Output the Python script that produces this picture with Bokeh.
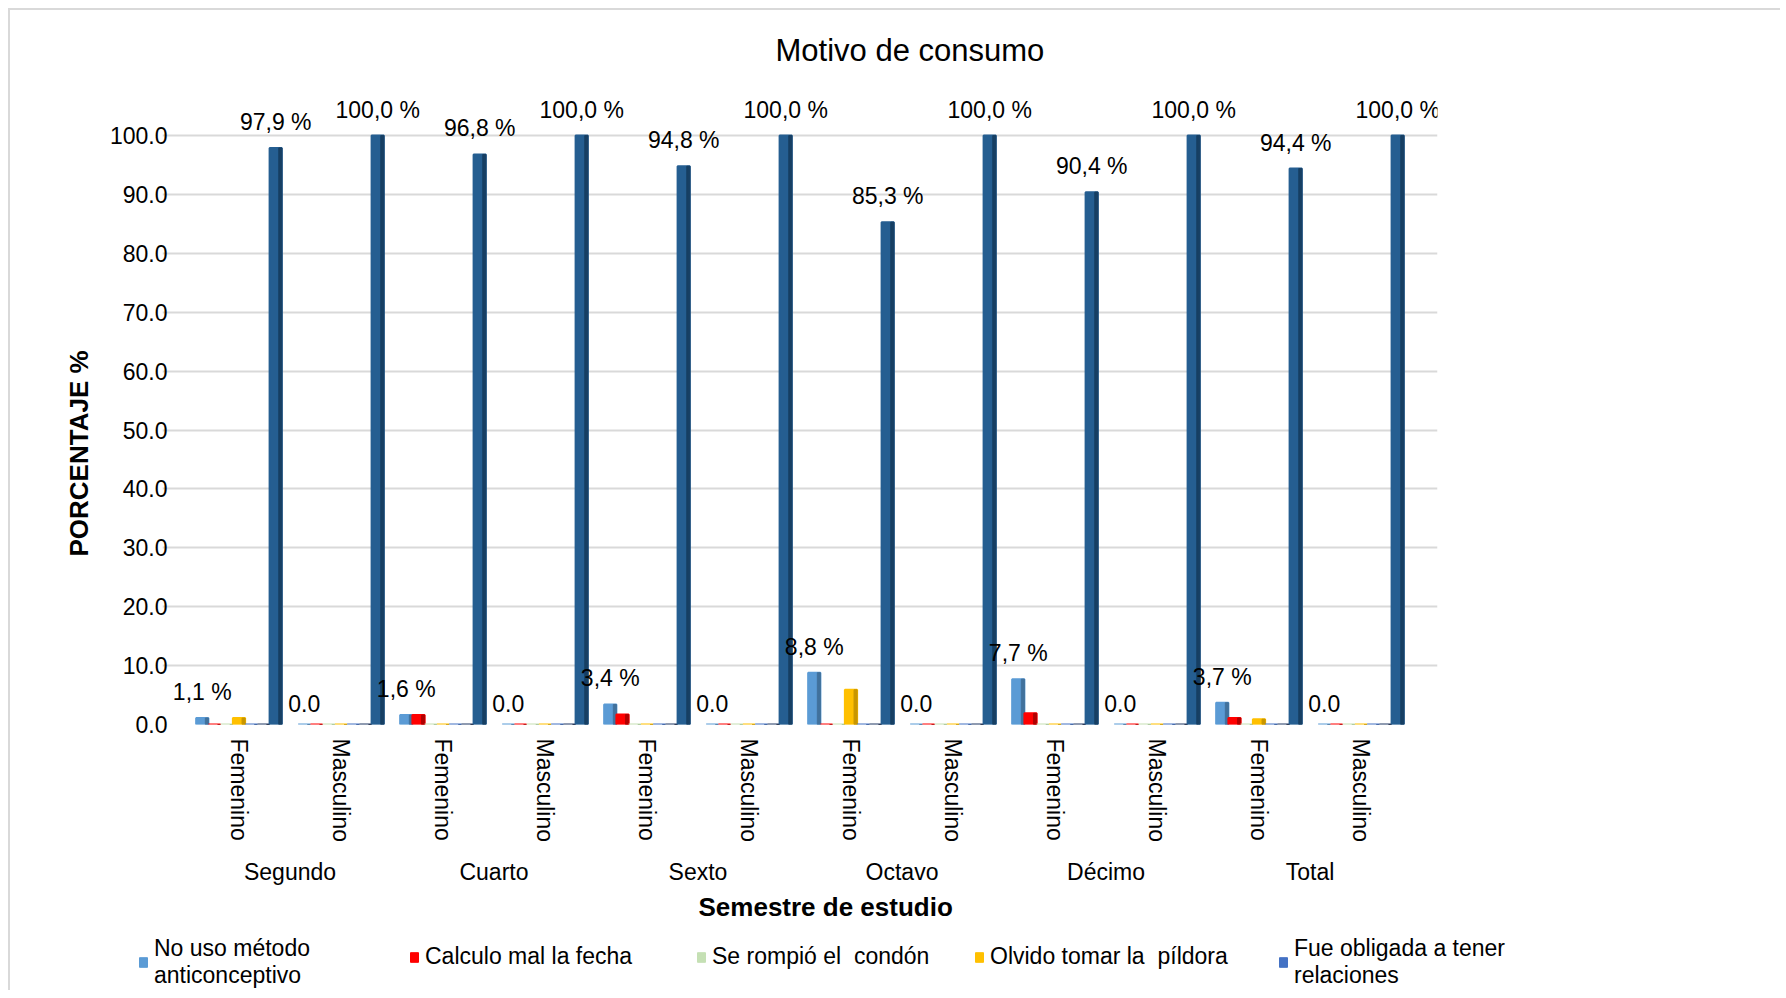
from bokeh.plotting import figure
from bokeh.models import (FactorRange, Range1d, FixedTicker, NumeralTickFormatter,
                          ColumnDataSource, Legend, LegendItem, LabelSet, Title)
from bokeh.transform import dodge
from bokeh.core.properties import value
from bokeh.embed import file_html
from bokeh.resources import INLINE

# ---------------- data ----------------
semestres = ["Segundo", "Cuarto", "Sexto", "Octavo", "Décimo", "Total"]
sexos = ["Femenino", "Masculino"]

series_names = ["No uso método\nanticonceptivo", "Calculo mal la fecha", "Se rompió el  condón",
                "Olvido tomar la  píldora", "Fue obligada a tener\nrelaciones", "Otro", "Anticoncepción"]
no_uso   = [1.1, 0.0, 1.6, 0.0, 3.4, 0.0, 8.8, 0.0, 7.7, 0.0, 3.7, 0.0]
calculo  = [0.0, 0.0, 1.6, 0.0, 1.7, 0.0, 0.0, 0.0, 1.9, 0.0, 1.1, 0.0]
condon   = [0.0, 0.0, 0.0, 0.0, 0.0, 0.0, 0.0, 0.0, 0.0, 0.0, 0.0, 0.0]
olvido   = [1.1, 0.0, 0.0, 0.0, 0.0, 0.0, 5.9, 0.0, 0.0, 0.0, 0.9, 0.0]
obligada = [0.0, 0.0, 0.0, 0.0, 0.0, 0.0, 0.0, 0.0, 0.0, 0.0, 0.0, 0.0]
otro     = [0.0, 0.0, 0.0, 0.0, 0.0, 0.0, 0.0, 0.0, 0.0, 0.0, 0.0, 0.0]
anticonc = [97.9, 100.0, 96.8, 100.0, 94.8, 100.0, 85.3, 100.0, 90.4, 100.0, 94.4, 100.0]
y_ticks = [0, 10, 20, 30, 40, 50, 60, 70, 80, 90, 100]

colors = ["#5b9bd5", "#ff0000", "#c5e0b4", "#ffc000", "#4472c4", "#203864", "#255e91"]
side_colors = ["#41719c", "#b00000", "#9fbf8f", "#c89600", "#2f5597", "#141f3a", "#173f63"]
in_legend = [True, True, True, True, True, False, False]

factors = [(s, x) for s in semestres for x in sexos]
all_series = [no_uso, calculo, condon, olvido, obligada, otro, anticonc]

FONT = "Liberation Sans"

x_range = FactorRange(*factors, group_padding=0, factor_padding=0,
                      range_padding=0.25, range_padding_units="absolute")
p = figure(x_range=x_range, y_range=Range1d(0, 108),
           frame_width=1275, frame_height=636,
           min_border_left=162, min_border_right=343, min_border_top=88, min_border_bottom=200,
           output_backend="svg", toolbar_location=None,
           background_fill_color="white", border_fill_color="white", border_fill_alpha=0)
p.outline_line_color = None
p.styles = {"background": "linear-gradient(#d9d9d9,#d9d9d9) 8px 8px / 2px 100% no-repeat, "
                          "linear-gradient(#d9d9d9,#d9d9d9) 8px 8px / 100% 2px no-repeat, white"}

bw = 0.12
sources = []
for i, (vals, c, sc) in enumerate(zip(all_series, colors, side_colors)):
    src = ColumnDataSource(dict(x=factors, top=vals))
    sources.append(src)
    off = (i - 3) * bw
    p.vbar(x=dodge("x", off, range=x_range), top="top", width=bw, source=src,
           fill_color=c, line_color=c, line_width=2)
    p.vbar(x=dodge("x", off + bw / 2 - 0.015, range=x_range), top="top", width=0.03, source=src,
           fill_color=sc, line_color=sc, line_width=1)

# data labels
first_lbl = [(f"{v:.1f}".replace(".", ",") + " %") if sx == "Femenino" else f"{v:.1f}"
             for v, (sm, sx) in zip(no_uso, factors)]
tall_lbl = [f"{v:.1f}".replace(".", ",") + " %" for v in anticonc]
src1 = ColumnDataSource(dict(x=factors, y=no_uso, t=first_lbl))
src2 = ColumnDataSource(dict(x=factors, y=anticonc, t=tall_lbl))
for src, off in ((src1, -3 * bw), (src2, 3 * bw)):
    ls = LabelSet(x=dodge("x", off, range=x_range), y="y", text="t", source=src,
                  text_align="center", text_baseline="bottom", y_offset=13,
                  text_font=value(FONT), text_font_size="23px", text_color="#000000")
    p.add_layout(ls)

# axes
p.ygrid.grid_line_color = "#d9d9d9"
p.ygrid.grid_line_width = 2
p.xgrid.grid_line_color = None

p.yaxis.ticker = FixedTicker(ticks=y_ticks)
p.yaxis.formatter = NumeralTickFormatter(format="0.0")
p.yaxis.axis_line_color = None
p.yaxis.major_tick_line_color = None
p.yaxis.minor_tick_line_color = None
p.yaxis.major_tick_out = 0
p.yaxis.major_tick_in = 0
p.yaxis.major_label_standoff = -5
p.yaxis.major_label_text_font = FONT
p.yaxis.major_label_text_font_size = "23px"
p.yaxis.major_label_text_color = "#000000"

p.xaxis.axis_line_color = None
p.xaxis.major_tick_line_color = None
p.xaxis.minor_tick_line_color = None
p.xaxis.major_tick_out = 0
p.xaxis.major_tick_in = 0
p.xaxis.separator_line_color = None
p.xaxis.major_label_orientation = "vertical"
p.xaxis.major_label_standoff = 14
p.xaxis.major_label_text_font = FONT
p.xaxis.major_label_text_font_size = "23px"
p.xaxis.major_label_text_color = "#000000"
p.xaxis.group_text_font = FONT
p.xaxis.group_text_font_size = "23px"
p.xaxis.group_text_font_style = "normal"
p.xaxis.group_text_color = "#000000"

# title
p.title.text = "Motivo de consumo"
p.title.text_font = FONT
p.title.text_font_size = "31px"
p.title.text_font_style = "normal"
p.title.text_color = "#000000"
p.title.align = "left"
p.title.offset = 613
p.title.standoff = 42

# axis titles as side titles, offset to match the reference
yt = Title(text="PORCENTAJE %", align="left", offset=168, standoff=26,
           text_font=FONT, text_font_size="26px", text_font_style="bold", text_color="#000000")
p.add_layout(yt, "left")
xt = Title(text="Semestre de estudio", align="left", offset=536, standoff=2,
           text_font=FONT, text_font_size="26px", text_font_style="bold", text_color="#000000")
p.add_layout(xt, "below")

# ---------------- legend strip (second root) ----------------
# same series drawn on a y range that keeps them out of view; only the legend shows
p2 = figure(width=1780, height=66, x_range=x_range, y_range=Range1d(500, 600),
            x_axis_type=None, y_axis_type=None, min_border=0,
            output_backend="svg", toolbar_location=None,
            background_fill_color="white", border_fill_color="white", background_fill_alpha=0,
            border_fill_alpha=0)
p2.outline_line_color = None
p2.xgrid.grid_line_color = None
p2.ygrid.grid_line_color = None
p2.styles = {"background": "linear-gradient(#d9d9d9,#d9d9d9) 8px 0px / 2px 100% no-repeat, white"}

leg_x = [138, 409, 696, 974, 1278]
leg_y = [1, 20, 20, 20, 1]
k = 0
for i in range(len(series_names)):
    if not in_legend[i]:
        continue
    r = p2.vbar(x=dodge("x", (i - 3) * bw, range=x_range), top="top", width=bw, source=sources[i],
                fill_color=colors[i], line_color=colors[i])
    lg = Legend(items=[LegendItem(label=series_names[i], renderers=[r])],
                location=(leg_x[k], leg_y[k]), orientation="horizontal",
                padding=0, margin=0, border_line_color=None, background_fill_alpha=0,
                glyph_width=10, glyph_height=12, label_standoff=6,
                label_text_font=FONT, label_text_font_size="23px", label_text_color="#000000",
                label_text_line_height=1.15)
    p2.add_layout(lg, "center")
    k += 1

open("out.html", "w").write(file_html([p, p2], INLINE))
